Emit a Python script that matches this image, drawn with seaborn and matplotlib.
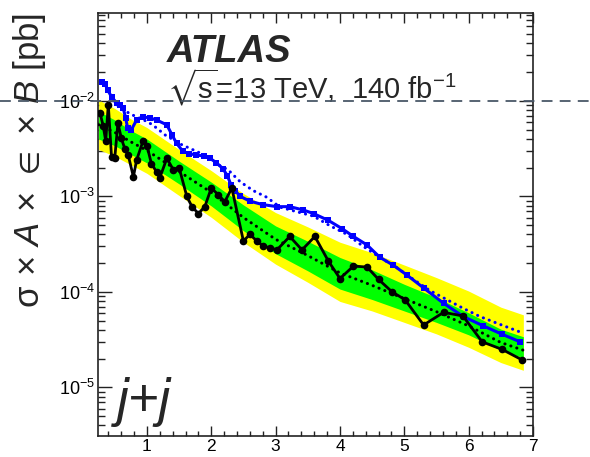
import numpy as np
import matplotlib
matplotlib.use("Agg")
import matplotlib.pyplot as plt
import matplotlib.transforms as mtransforms
from matplotlib.ticker import MultipleLocator, LogLocator, NullFormatter
import seaborn as sns

# ---------------------------------------------------------------------------
# Limits on sigma x A x eps x B versus resonance mass [TeV], j+j channel
# ---------------------------------------------------------------------------

# Expected limit and its 1 / 2 sigma bands
band_mass = [0.25, 0.5, 0.75, 1.0, 1.5, 2.0, 2.5, 3.0, 3.5, 4.0, 4.5, 5.0,
             5.5, 6.0, 6.5, 6.85]
exp_limit = [5.62e-3, 4.68e-3, 3.72e-3, 3.02e-3, 1.82e-3, 1.10e-3, 6.0e-4,
             3.55e-4, 2.4e-4, 1.58e-4, 1.17e-4, 8.5e-5, 6.2e-5, 4.4e-5,
             2.95e-5, 2.45e-5]
exp_plus2 = [1.02e-2, 8.32e-3, 6.46e-3, 5.25e-3, 3.09e-3, 1.86e-3, 1.07e-3,
             6.76e-4, 4.79e-4, 3.31e-4, 2.57e-4, 1.91e-4, 1.41e-4, 1.02e-4,
             6.92e-5, 5.75e-5]
exp_plus1 = [7.76e-3, 6.31e-3, 4.90e-3, 3.98e-3, 2.34e-3, 1.41e-3, 8.13e-4,
             4.90e-4, 3.39e-4, 2.29e-4, 1.70e-4, 1.20e-4, 8.71e-5, 6.03e-5,
             4.07e-5, 3.39e-5]
exp_minus1 = [3.98e-3, 3.39e-3, 2.75e-3, 2.24e-3, 1.35e-3, 7.94e-4, 4.37e-4,
              2.51e-4, 1.66e-4, 1.07e-4, 8.32e-5, 6.31e-5, 4.79e-5, 3.55e-5,
              2.45e-5, 2.04e-5]
exp_minus2 = [3.09e-3, 2.63e-3, 2.14e-3, 1.74e-3, 1.02e-3, 6.03e-4, 3.31e-4,
              1.95e-4, 1.26e-4, 7.94e-5, 6.31e-5, 4.79e-5, 3.63e-5, 2.63e-5,
              1.82e-5, 1.51e-5]

# Observed limit (black)
obs_mass = [0.27, 0.32, 0.36, 0.40, 0.45, 0.50, 0.55, 0.60, 0.66, 0.71, 0.79,
            0.84, 0.94, 1.00, 1.07, 1.15, 1.20, 1.31, 1.41, 1.50, 1.62, 1.70,
            1.80, 1.90, 2.00, 2.11, 2.21, 2.32, 2.50, 2.60, 2.71, 2.81, 2.91,
            3.02, 3.22, 3.41, 3.61, 3.82, 4.00, 4.21, 4.42, 4.60, 4.81, 5.01,
            5.30, 5.61, 5.91, 6.21, 6.52, 6.83]
obs_limit = [7.5e-3, 5.5e-3, 3.8e-3, 9.1e-3, 2.6e-3, 2.5e-3, 5.9e-3, 4.1e-3,
             3.1e-3, 2.7e-3, 1.6e-3, 2.4e-3, 3.8e-3, 3.4e-3, 2.2e-3, 1.8e-3,
             1.56e-3, 2.5e-3, 1.9e-3, 2.0e-3, 1.0e-3, 7.8e-4, 6.6e-4, 7.8e-4,
             1.22e-3, 1.04e-3, 8.8e-4, 1.22e-3, 3.4e-4, 4.0e-4, 3.4e-4, 3.0e-4,
             2.9e-4, 2.75e-4, 3.8e-4, 2.75e-4, 3.8e-4, 2.1e-4, 1.38e-4, 1.86e-4,
             1.82e-4, 1.35e-4, 1.0e-4, 8.3e-5, 4.5e-5, 6.1e-5, 5.6e-5, 3.0e-5,
             2.5e-5, 1.94e-5]

# Observed (blue squares) and expected (blue dotted) of the second selection
blue_obs_mass = [0.30, 0.35, 0.39, 0.45, 0.53, 0.58, 0.63, 0.67, 0.70, 0.76,
                 0.84, 0.94, 1.05, 1.15, 1.31, 1.39, 1.46, 1.56, 1.66, 1.77,
                 1.88, 1.98, 2.08, 2.18, 2.25, 2.31, 2.37, 2.45, 2.60, 2.80,
                 3.02, 3.22, 3.43, 3.59, 3.82, 4.03, 4.21, 4.42, 4.62, 4.83,
                 5.04, 5.30, 5.61, 5.92, 6.23, 6.52, 6.80]
blue_obs = [1.59e-2, 1.5e-2, 1.3e-2, 1.1e-2, 9.5e-3, 9.1e-3, 8.5e-3, 6.6e-3,
            5.2e-3, 5.0e-3, 6.3e-3, 6.8e-3, 6.6e-3, 6.3e-3, 5.6e-3, 4.4e-3,
            3.6e-3, 2.95e-3, 2.8e-3, 2.7e-3, 2.65e-3, 2.5e-3, 2.25e-3, 1.95e-3,
            1.65e-3, 1.3e-3, 1.15e-3, 1.0e-3, 8.9e-4, 8.2e-4, 7.8e-4, 7.8e-4,
            7.2e-4, 6.6e-4, 5.6e-4, 4.6e-4, 3.8e-4, 3.1e-4, 2.3e-4, 1.9e-4,
            1.5e-4, 1.1e-4, 7.6e-5, 5.5e-5, 4.4e-5, 3.6e-5, 3.0e-5]

blue_exp_mass = [0.48, 0.58, 0.74, 0.90, 1.02, 1.15, 1.28, 1.53, 1.75, 1.95,
                 2.10, 2.26, 2.45, 2.65, 2.86, 3.07, 3.33, 3.59, 3.85, 4.11,
                 4.36, 4.62, 4.88, 5.14, 5.40, 5.66, 5.92, 6.18, 6.44, 6.80]
blue_exp = [1.0e-2, 8.5e-3, 7.3e-3, 6.5e-3, 6.0e-3, 5.2e-3, 4.4e-3, 3.5e-3,
            3.0e-3, 2.6e-3, 2.15e-3, 1.9e-3, 1.42e-3, 1.15e-3, 9.8e-4, 7.7e-4,
            6.9e-4, 6.2e-4, 4.9e-4, 4.0e-4, 3.0e-4, 2.3e-4, 1.8e-4, 1.35e-4,
            1.03e-4, 8.3e-5, 6.7e-5, 5.5e-5, 4.7e-5, 3.8e-5]

x_ticks = [1, 2, 3, 4, 5, 6, 7]
reference_level = 1e-2

# ---------------------------------------------------------------------------
sns.set_theme(style="ticks")
plt.rcParams["font.family"] = ["Liberation Sans", "DejaVu Sans"]
plt.rcParams["mathtext.fontset"] = "custom"
plt.rcParams["mathtext.rm"] = "Liberation Sans"
plt.rcParams["mathtext.it"] = "Liberation Sans:italic"
plt.rcParams["mathtext.bf"] = "Liberation Sans:bold"
plt.rcParams["mathtext.fallback"] = "stixsans"

W, H = 590, 457
fig = plt.figure(figsize=(W / 100, H / 100), dpi=100)
fig.patch.set_facecolor("white")
left, right, top, bottom = 98, 533, 13, 436
ax = fig.add_axes([left / W, 1 - bottom / H, (right - left) / W, (bottom - top) / H])
ax.set_facecolor("white")
ax.set_yscale("log")
ax.set_xlim(0.24, 7.0)
ax.set_ylim(3.1e-6, 0.083)

# bands
ax.fill_between(band_mass, exp_minus2, exp_plus2, color="#ffff00", lw=0, zorder=1)
ax.fill_between(band_mass, exp_minus1, exp_plus1, color="#00ff00", lw=0, zorder=2)

dots = (0, (0.05, 2.0))
sns.lineplot(x=band_mass, y=exp_limit, ax=ax, color="black", lw=2.2,
             linestyle=dots, dash_capstyle="round", zorder=3)
sns.lineplot(x=blue_exp_mass, y=blue_exp, ax=ax, color="#0000ff", lw=2.2,
             linestyle=dots, dash_capstyle="round", zorder=4)
sns.lineplot(x=blue_obs_mass, y=blue_obs, ax=ax, color="#0000ff", lw=2.2,
             marker="s", markersize=5, markeredgewidth=0, zorder=5)
sns.lineplot(x=obs_mass, y=obs_limit, ax=ax, color="black", lw=2.0,
             marker="o", markersize=5.5, markeredgewidth=0, zorder=6)

# horizontal dashed reference across the full figure width
blend = mtransforms.blended_transform_factory(fig.transFigure, ax.transData)
ax.plot([0, 1], [reference_level, reference_level], transform=blend,
        color="#4a5868", lw=1.3, dashes=(6, 4), clip_on=False, zorder=7)

# axes styling
for s in ax.spines.values():
    s.set_linewidth(1.2)
    s.set_color("#222222")
ax.xaxis.set_major_locator(MultipleLocator(1))
ax.xaxis.set_minor_locator(MultipleLocator(0.2))
ax.set_xticks(x_ticks)
ax.yaxis.set_major_locator(LogLocator(base=10))
ax.yaxis.set_minor_locator(LogLocator(base=10, subs=np.arange(2, 10)))
ax.yaxis.set_minor_formatter(NullFormatter())
ax.tick_params(which="both", direction="in", top=True, right=True,
               colors="#222222", labelcolor="black", width=1.0)
ax.tick_params(axis="x", which="major", length=7.5, labelsize=12.5, pad=2.5)
ax.tick_params(axis="x", which="minor", length=3.8)
ax.tick_params(axis="y", which="major", length=10, labelsize=13, pad=2)
ax.tick_params(axis="y", which="minor", length=5)
ax.set_xlabel("")

ax.set_ylabel(r"$\mathrm{\sigma}\,\times\,A\,\times\,\in\,\times\,B$ [pb]",
              fontsize=25, loc="top")
ax.yaxis.set_label_coords(-0.115, 1.0)

ax.text(0.157, 0.884, "ATLAS", transform=ax.transAxes, fontsize=27.5,
        fontweight="bold", fontstyle="italic", va="baseline", ha="left")
ax.text(0.158, 0.797, r"$\sqrt{\mathrm{s}}$=13 TeV,  140 fb$^{-1}$",
        transform=ax.transAxes, fontsize=21, va="baseline", ha="left")
ax.text(0.044, 0.047, "j+j", transform=ax.transAxes, fontsize=38,
        fontstyle="italic", va="baseline", ha="left")

fig.savefig("out.png", dpi=100, facecolor="white")
